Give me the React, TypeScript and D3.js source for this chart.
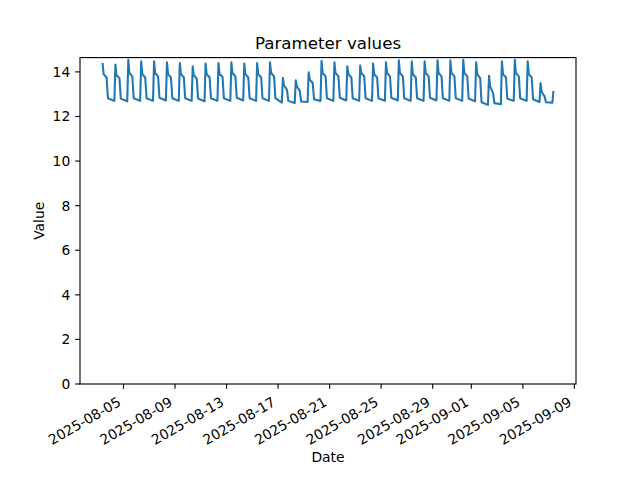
import React from "react";
import * as d3 from "d3";

// ---- data ----
const days = [
  "2025-08-03", "2025-08-04", "2025-08-05", "2025-08-06", "2025-08-07", "2025-08-08",
  "2025-08-09", "2025-08-10", "2025-08-11", "2025-08-12", "2025-08-13", "2025-08-14",
  "2025-08-15", "2025-08-16", "2025-08-17", "2025-08-18", "2025-08-19", "2025-08-20",
  "2025-08-21", "2025-08-22", "2025-08-23", "2025-08-24", "2025-08-25", "2025-08-26",
  "2025-08-27", "2025-08-28", "2025-08-29", "2025-08-30", "2025-08-31", "2025-09-01",
  "2025-09-02", "2025-09-03", "2025-09-04", "2025-09-05", "2025-09-06", "2025-09-07",
];
// daily peak after the morning rise
const peaks = [
  14.40, 14.33, 14.54, 14.47, 14.47, 14.43, 14.40, 14.25, 14.37, 14.40, 14.43, 14.38,
  14.40, 14.43, 13.73, 13.62, 13.98, 14.50, 14.43, 14.25, 14.28, 14.37, 14.43, 14.52,
  14.47, 14.47, 14.52, 14.52, 14.54, 14.43, 13.83, 14.47, 14.54, 14.47, 13.50, 13.15,
];
// plateau level shortly after the peak
const shoulders = [
  13.90, 13.85, 13.95, 13.90, 13.95, 13.90, 13.90, 13.85, 13.90, 13.90, 13.95, 13.90,
  13.90, 13.95, 13.40, 13.35, 13.65, 13.95, 13.95, 13.90, 13.95, 13.90, 13.95, 13.95,
  13.90, 13.95, 13.95, 13.95, 13.95, 13.90, 13.35, 13.90, 13.95, 13.90, 13.10, 13.15,
];
// plateau level just before the evening drop
const shoulderEnd = [
  13.75, 13.72, 13.80, 13.75, 13.80, 13.75, 13.75, 13.70, 13.75, 13.78, 13.80, 13.75,
  13.75, 13.80, 13.20, 13.15, 13.50, 13.80, 13.80, 13.75, 13.80, 13.75, 13.80, 13.80,
  13.75, 13.80, 13.80, 13.80, 13.80, 13.72, 13.05, 13.75, 13.80, 13.75, 12.90, 13.15,
];
// value right after the evening drop
const lowAfter = [
  12.82, 12.80, 12.82, 12.82, 12.84, 12.82, 12.82, 12.80, 12.82, 12.82, 12.84, 12.82,
  12.82, 12.82, 12.70, 12.67, 12.77, 12.82, 12.84, 12.82, 12.82, 12.82, 12.84, 12.82,
  12.82, 12.84, 12.82, 12.82, 12.80, 12.64, 12.60, 12.80, 12.82, 12.77, 12.64, 12.70,
];
// value just before the morning rise
const lowBefore = [
  12.70, 12.70, 12.68, 12.70, 12.70, 12.72, 12.70, 12.70, 12.68, 12.70, 12.70, 12.72,
  12.70, 12.70, 12.62, 12.60, 12.65, 12.70, 12.70, 12.72, 12.70, 12.70, 12.70, 12.72,
  12.70, 12.70, 12.72, 12.70, 12.70, 12.68, 12.52, 12.55, 12.70, 12.70, 12.65, 12.62,
];
const profileHours = [7, 9, 11, 16.5, 19];
const startTime = "2025-08-03T09:00";
const endTime = "2025-09-07T09:00";
const xTickLabels = [
  "2025-08-05", "2025-08-09", "2025-08-13", "2025-08-17", "2025-08-21",
  "2025-08-25", "2025-08-29", "2025-09-01", "2025-09-05", "2025-09-09",
];
const yTicks = [0, 2, 4, 6, 8, 10, 12, 14];

const W = 640, H = 480;
const left = 80, right = 576, top = 57.6, bottom = 384;
const FONT = "DejaVu Sans, sans-serif";
const fs = 13.89;

export default function App() {
  const parseDay = d3.utcParse("%Y-%m-%d");
  const parseT = d3.utcParse("%Y-%m-%dT%H:%M");
  const t0 = parseT(startTime)!;
  const t1 = parseT(endTime)!;

  const pts: { t: Date; v: number }[] = [];
  days.forEach((ds, i) => {
    const d = parseDay(ds)!;
    const vals = [lowBefore[i], peaks[i], shoulders[i], shoulderEnd[i], lowAfter[i]];
    profileHours.forEach((h, j) => {
      const t = d3.utcMinute.offset(d, Math.round(h * 60));
      if (t >= t0 && t <= t1) pts.push({ t, v: vals[j] });
    });
  });

  const span = +t1 - +t0;
  const x = d3
    .scaleUtc()
    .domain([new Date(+t0 - 0.05 * span), new Date(+t1 + 0.05 * span)])
    .range([left, right]);
  const vmax = d3.max(pts, (p) => p.v)!;
  const vmin = d3.min(pts, (p) => p.v)!;
  const y = d3
    .scaleLinear()
    .domain([0, vmax + 0.05 * (vmax - vmin)])
    .range([bottom, top]);

  const line = d3
    .line<{ t: Date; v: number }>()
    .x((p) => x(p.t))
    .y((p) => y(p.v));

  const tickLen = 4.86;
  const pad = 4.86;
  const lineH = fs * 1.164;
  const desc = fs * 0.236;
  const cos30 = Math.cos(Math.PI / 6);

  return (
    <svg width={W} height={H} style={{ display: "block", position: "absolute", left: 0, top: 0 }}
      fontFamily={FONT}>
      <rect x={0} y={0} width={W} height={H} fill="white" />
      <path d={line(pts)!} fill="none" stroke="#1f77b4" strokeWidth={2.08}
        strokeLinejoin="round" strokeLinecap="butt" />
      <rect x={left} y={top} width={right - left} height={bottom - top} fill="none"
        stroke="black" strokeWidth={1.11} />
      {yTicks.map((v) => (
        <g key={v}>
          <line x1={left} x2={left - tickLen} y1={y(v)} y2={y(v)} stroke="black" strokeWidth={1.11} />
          <text x={left - tickLen - pad} y={y(v)} dy="0.36em" textAnchor="end" fontSize={fs}>
            {v}
          </text>
        </g>
      ))}
      {xTickLabels.map((s) => {
        const tx = x(parseDay(s)!);
        return (
          <g key={s}>
            <line x1={tx} x2={tx} y1={bottom} y2={bottom + tickLen} stroke="black" strokeWidth={1.11} />
            <g transform={`translate(${tx},${bottom + tickLen + pad + lineH * cos30}) rotate(-30)`}>
              <text x={0} y={-desc} textAnchor="end" fontSize={fs}>
                {s}
              </text>
            </g>
          </g>
        );
      })}
      <text x={(left + right) / 2} y={462.3} textAnchor="middle" fontSize={fs}>
        Date
      </text>
      <text transform={`translate(44,${(top + bottom) / 2}) rotate(-90)`} textAnchor="middle" fontSize={fs}>
        Value
      </text>
      <text x={(left + right) / 2} y={49.3} textAnchor="middle" fontSize={16.67}>
        Parameter values
      </text>
    </svg>
  );
}
